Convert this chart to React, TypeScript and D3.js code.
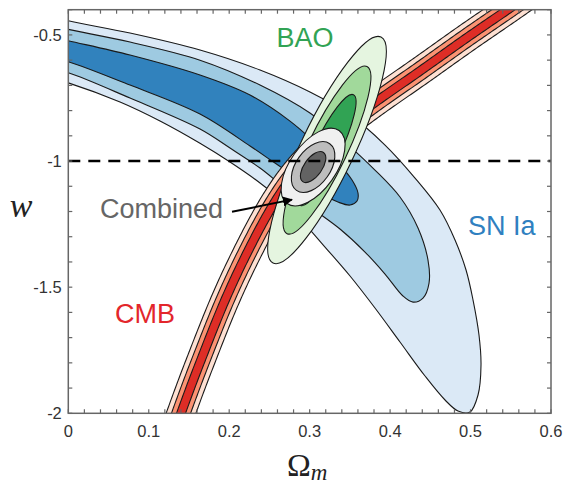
import React from 'react';
import * as d3 from 'd3';

// ---------- data (Ωm, w) ----------
const xTickValues = [0, 0.1, 0.2, 0.3, 0.4, 0.5, 0.6];
const xTickLabels = ['0', '0.1', '0.2', '0.3', '0.4', '0.5', '0.6'];
const yTickValues = [-2, -1.5, -1, -0.5];
const yTickLabels = ['-2', '-1.5', '-1', '-0.5'];

// SN Ia contours (3σ, 2σ, 1σ) as closed outlines
const snOuter: [number, number][] = [
  [-0.035, -0.417], [0, -0.444], [0.0767, -0.4927], [0.1637, -0.56], [0.2383, -0.6393], [0.3004, -0.7265],
  [0.3502, -0.8177], [0.3937, -0.9366], [0.431, -1.0674], [0.462, -1.1942], [0.4807, -1.3131],
  [0.4944, -1.432], [0.5031, -1.551], [0.5105, -1.6897], [0.513, -1.8086], [0.5093, -1.9275],
  [0.4993, -1.9948], [0.4844, -1.9909], [0.4683, -1.9473], [0.4434, -1.8522], [0.4123, -1.7174],
  [0.3812, -1.5826], [0.3502, -1.4558], [0.3191, -1.3409], [0.2918, -1.2418], [0.2657, -1.1585],
  [0.2383, -1.087], [0.201, -1.004], [0.1637, -0.9298], [0.114, -0.8415], [0.0643, -0.7662],
  [0, -0.69], [-0.035, -0.659], [-0.06, -0.54],
];
const snMid: [number, number][] = [
  [-0.035, -0.453], [0, -0.478], [0.0767, -0.5283], [0.1637, -0.6], [0.2383, -0.6988], [0.3004, -0.8098],
  [0.3439, -0.9247], [0.3812, -1.0357], [0.4123, -1.1427], [0.4347, -1.2656], [0.4471, -1.3924],
  [0.4484, -1.4836], [0.4409, -1.543], [0.4285, -1.5591], [0.416, -1.535], [0.3937, -1.4479],
  [0.3688, -1.3607], [0.3377, -1.2695], [0.3042, -1.1903], [0.2694, -1.107], [0.2383, -1.0277],
  [0.201, -0.9485], [0.1637, -0.8731], [0.0767, -0.7503], [0, -0.65], [-0.035, -0.6235], [-0.06, -0.54],
];
const snInner: [number, number][] = [
  [-0.035, -0.497], [0, -0.523], [0.0767, -0.5799], [0.1637, -0.6591], [0.2259, -0.7385], [0.2756, -0.8415],
  [0.3129, -0.9445], [0.3377, -1.0159], [0.3527, -1.0753], [0.3601, -1.1268], [0.3589, -1.1585],
  [0.3502, -1.1744], [0.3352, -1.1625], [0.3129, -1.1268], [0.288, -1.0753], [0.2569, -1.0079],
  [0.2259, -0.9405], [0.1637, -0.8137], [0.0767, -0.6988], [0, -0.606], [-0.035, -0.58], [-0.055, -0.54],
];

// CMB degeneracy band: centre line and half widths (in Ωm units) for 3σ, 2σ, 1σ
const cmbCentre: [number, number][] = [
  [0.1289, -2.1057], [0.1401, -2.0], [0.1625, -1.8086], [0.1949, -1.551], [0.2272, -1.3329], [0.2582, -1.1546],
  [0.288, -1.0238], [0.3253, -0.9049], [0.375, -0.782], [0.4371, -0.6433], [0.4931, -0.5164], [0.549, -0.3936],
  [0.5863, -0.3104],
];
const cmbHalfWidths = [0.0174, 0.0112, 0.0053];

// BAO ellipses: centre, major semi-axis vector (outer), scale per level, axis ratio
const baoCentre: [number, number] = [0.3216, -0.9564];
const baoAxis: [number, number] = [0.0671, 0.4479];
const baoScales = [1, 0.74, 0.49];
const baoRatio = [0.215, 0.215, 0.215];

// Combined ellipses
const combCentre: [number, number] = [0.3043, -1.0238];
const combAxis: [number, number] = [0.0323, 0.1447];
const combScales = [1, 0.64, 0.4];
const combRatio = [0.51, 0.6, 0.5];

// annotation arrow (from label to combined contour)
const arrowFrom: [number, number] = [0.2035, -1.201];
const arrowTo: [number, number] = [0.278, -1.153];

const snColors = ['#dbe9f6', '#9ecae1', '#3182bd'];
const cmbColors = ['#fee0d2', '#fc9272', '#de2d26'];
const baoColors = ['#e5f5e0', '#a1d99b', '#31a354'];
const combColors = ['#f0f0f0', '#bdbdbd', '#636363'];

// ---------- layout ----------
const W = 566;
const H = 484;
const X0 = 68.3;
const X1 = 551;
const Y0 = 413.3;
const Y1 = 9.7;

const x = d3.scaleLinear().domain([0, 0.6]).range([X0, X1]);
const y = d3.scaleLinear().domain([-2, -0.4]).range([Y0, Y1]);

const sansFont = 'Liberation Sans, Arial, Helvetica, sans-serif';
const serifFont = 'Liberation Serif, Times New Roman, serif';

function catmullRom(pts: [number, number][], samples = 24): [number, number][] {
  const out: [number, number][] = [];
  for (let i = 0; i < pts.length - 1; i++) {
    const p0 = pts[Math.max(0, i - 1)];
    const p1 = pts[i];
    const p2 = pts[i + 1];
    const p3 = pts[Math.min(pts.length - 1, i + 2)];
    for (let s = 0; s < samples; s++) {
      const t = s / samples;
      const t2 = t * t;
      const t3 = t2 * t;
      const f = (a: number, b: number, c: number, d: number) =>
        0.5 * (2 * b + (-a + c) * t + (2 * a - 5 * b + 4 * c - d) * t2 + (-a + 3 * b - 3 * c + d) * t3);
      out.push([f(p0[0], p1[0], p2[0], p3[0]), f(p0[1], p1[1], p2[1], p3[1])]);
    }
  }
  out.push(pts[pts.length - 1]);
  return out;
}

function bandPath(centre: [number, number][], halfWidth: number): string {
  const px = centre.map((p) => [x(p[0]), y(p[1])] as [number, number]);
  const pts = catmullRom(px);
  const h = halfWidth * (x(1) - x(0));
  const left: [number, number][] = [];
  const right: [number, number][] = [];
  for (let i = 0; i < pts.length; i++) {
    const a = pts[Math.max(0, i - 1)];
    const b = pts[Math.min(pts.length - 1, i + 1)];
    const tx = b[0] - a[0];
    const ty = b[1] - a[1];
    const len = Math.hypot(tx, ty) || 1;
    const nx = -ty / len;
    const ny = tx / len;
    left.push([pts[i][0] + nx * h, pts[i][1] + ny * h]);
    right.push([pts[i][0] - nx * h, pts[i][1] - ny * h]);
  }
  return (d3.line()([...left, ...right.reverse()]) || '') + 'Z';
}

const closedLine = d3
  .line<[number, number]>()
  .x((d) => x(d[0]))
  .y((d) => y(d[1]))
  .curve(d3.curveCatmullRomClosed.alpha(0.5));

function ellipseProps(centre: [number, number], axis: [number, number], scale: number, ratio: number) {
  const cx = x(centre[0]);
  const cy = y(centre[1]);
  const tx = x(centre[0] + axis[0] * scale);
  const ty = y(centre[1] + axis[1] * scale);
  const a = Math.hypot(tx - cx, ty - cy);
  const ang = (Math.atan2(ty - cy, tx - cx) * 180) / Math.PI;
  return { cx, cy, rx: a, ry: a * ratio, transform: `rotate(${ang} ${cx} ${cy})` };
}

export default function App() {
  const xMinor = x.ticks(30);
  const yMinor = y.ticks(16);
  const snShapes = [snOuter, snMid, snInner];
  const outline = { stroke: '#1a1a1a', strokeWidth: 1.1 };

  return (
    <svg width={W} height={H} style={{ display: 'block', position: 'absolute', left: 0, top: 0, background: '#fff' }}>
      <defs>
        <clipPath id="plotClip">
          <rect x={X0} y={Y1} width={X1 - X0} height={Y0 - Y1} />
        </clipPath>
        <marker id="arrowHead" viewBox="0 0 10 10" refX="9" refY="5" markerWidth="5" markerHeight="5" orient="auto">
          <path d="M0,0 L10,5 L0,10 Z" fill="#000" />
        </marker>
      </defs>

      <g clipPath="url(#plotClip)">
        {snShapes.map((s, i) => (
          <path key={`sn${i}`} d={closedLine(s) || ''} fill={snColors[i]} {...outline} />
        ))}
        {cmbHalfWidths.map((hw, i) => (
          <path key={`cmb${i}`} d={bandPath(cmbCentre, hw)} fill={cmbColors[i]} {...outline} />
        ))}
        {baoScales.map((s, i) => (
          <ellipse key={`bao${i}`} {...ellipseProps(baoCentre, baoAxis, s, baoRatio[i])} fill={baoColors[i]} {...outline} />
        ))}
        {combScales.map((s, i) => (
          <ellipse key={`comb${i}`} {...ellipseProps(combCentre, combAxis, s, combRatio[i])} fill={combColors[i]} {...outline} />
        ))}
        <line x1={X0} x2={X1} y1={y(-1)} y2={y(-1)} stroke="#000" strokeWidth={2.6} strokeDasharray="12 8" />
      </g>

      {/* arrow */}
      <line
        x1={x(arrowFrom[0])}
        y1={y(arrowFrom[1])}
        x2={x(arrowTo[0])}
        y2={y(arrowTo[1])}
        stroke="#000"
        strokeWidth={2}
        markerEnd="url(#arrowHead)"
      />

      {/* frame and ticks */}
      <rect x={X0} y={Y1} width={X1 - X0} height={Y0 - Y1} fill="none" stroke="#666" strokeWidth={1.5} />
      {xMinor.map((t, i) => (
        <g key={`xt${i}`} stroke="#666" strokeWidth={1.2}>
          <line x1={x(t)} x2={x(t)} y1={Y0} y2={Y0 - 4} />
          <line x1={x(t)} x2={x(t)} y1={Y1} y2={Y1 + 4} />
        </g>
      ))}
      {yMinor.map((t, i) => (
        <g key={`yt${i}`} stroke="#666" strokeWidth={1.2}>
          <line x1={X0} x2={X0 + 4} y1={y(t)} y2={y(t)} />
          <line x1={X1} x2={X1 - 4} y1={y(t)} y2={y(t)} />
        </g>
      ))}
      {xTickValues.map((t, i) => (
        <text key={`xl${i}`} x={x(t)} y={Y0 + 23.5} textAnchor="middle" fontFamily={sansFont} fontSize={16.5} fill="#333">
          {xTickLabels[i]}
        </text>
      ))}
      {yTickValues.map((t, i) => (
        <text key={`yl${i}`} x={X0 - 6.5} y={y(t) + 6} textAnchor="end" fontFamily={sansFont} fontSize={16.5} fill="#333">
          {yTickLabels[i]}
        </text>
      ))}

      {/* axis titles */}
      <text x={21} y={217} textAnchor="middle" fontFamily={serifFont} fontStyle="italic" fontSize={34} fill="#222">
        w
      </text>
      <text x={287} y={476} fontFamily={serifFont} fontSize={32} fill="#222">
        Ω
        <tspan fontStyle="italic" fontSize={23} dy={4}>
          m
        </tspan>
      </text>

      {/* probe labels */}
      <text x={276.5} y={46.5} fontFamily={sansFont} fontSize={27} fill="#31a354">
        BAO
      </text>
      <text x={100} y={218} fontFamily={sansFont} fontSize={27} fill="#666">
        Combined
      </text>
      <text x={468} y={235} fontFamily={sansFont} fontSize={27} fill="#2f80c0">
        SN Ia
      </text>
      <text x={115} y={323} fontFamily={sansFont} fontSize={27} fill="#e3262b">
        CMB
      </text>
    </svg>
  );
}
